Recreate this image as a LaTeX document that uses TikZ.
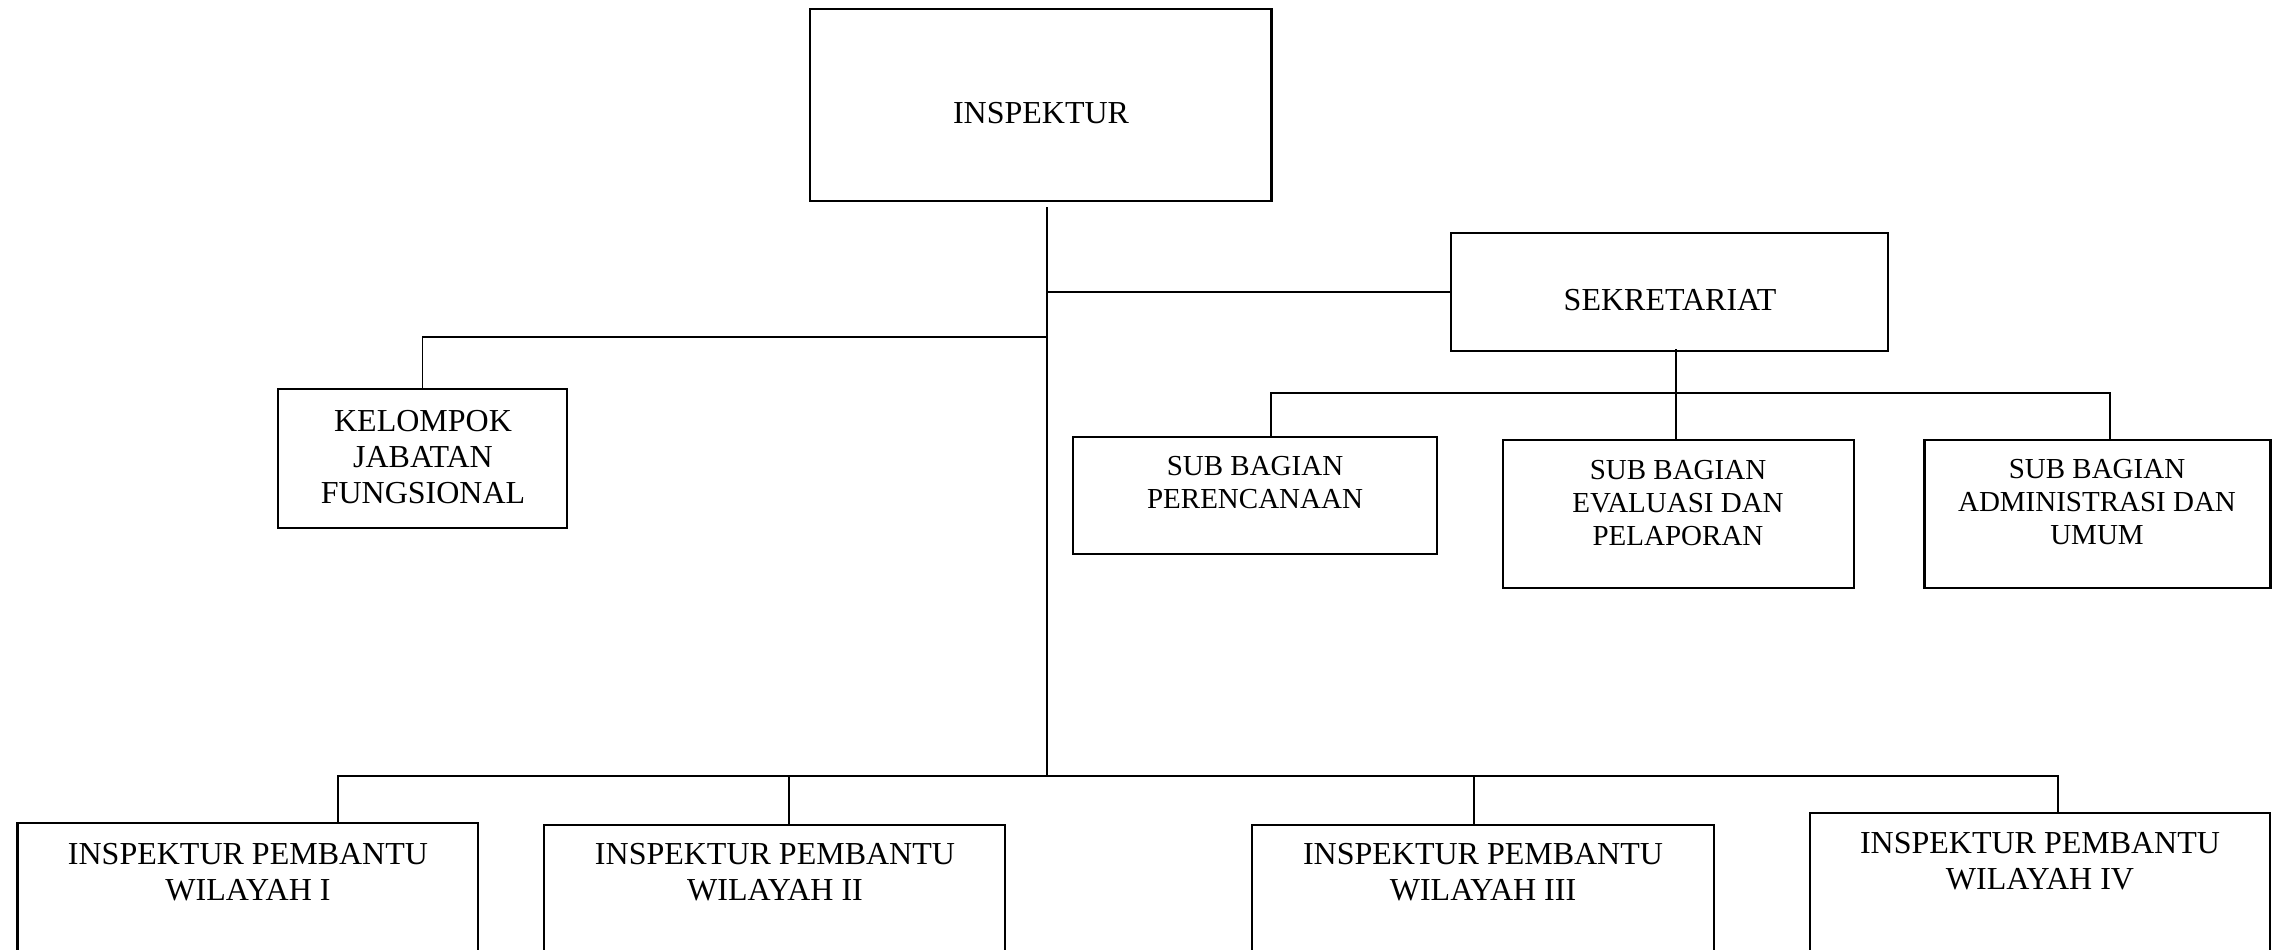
\documentclass[tikz,border=0pt]{standalone}
\usepackage{fontspec}
\setmainfont{Liberation Serif}
\begin{document}
\begin{tikzpicture}[x=1pt,y=-1pt,
  box/.style={draw, line width=2.2pt, inner sep=0pt, outer sep=0pt},
  lbl/.style={align=center, inner sep=0pt, font=\fontsize{32}{36}\selectfont},
  slbl/.style={align=center, inner sep=0pt, font=\fontsize{29}{33}\selectfont},
  conn/.style={line width=1.8pt}]
\clip (0,0) rectangle (2272,950);
\useasboundingbox (0,0) rectangle (2272,950);

% boxes
\node[box, minimum width=461.5, minimum height=192] (insp) at (1040.75,105) {};
\node[box, minimum width=437, minimum height=118] (sek) at (1669.5,292) {};
\node[box, minimum width=289, minimum height=139] (kel) at (422.5,458.5) {};
\node[box, minimum width=364, minimum height=117] (sub1) at (1255,495.5) {};
\node[box, minimum width=351, minimum height=148] (sub2) at (1678.5,514) {};
\node[box, minimum width=346, minimum height=148] (sub3) at (2097.5,514) {};
\node[box, minimum width=460.5, minimum height=200, anchor=north] (b1) at (247.75,823) {};
\node[box, minimum width=461, minimum height=200, anchor=north] (b2) at (774.5,825) {};
\node[box, minimum width=462, minimum height=200, anchor=north] (b3) at (1483,825) {};
\node[box, minimum width=460, minimum height=200, anchor=north] (b4) at (2040,813) {};

% texts
\node[lbl] (insp-t) at (1041,113) {INSPEKTUR};
\node[lbl] (sek-t) at (1670,300) {SEKRETARIAT};
\node[lbl] (kel-t) at (423,457) {KELOMPOK\\JABATAN\\FUNGSIONAL};
\node[slbl] (sub1-t) at (1255,483) {SUB BAGIAN\\PERENCANAAN};
\node[slbl] (sub2-t) at (1678,502.7) {SUB BAGIAN\\EVALUASI DAN\\PELAPORAN};
\node[slbl] (sub3-t) at (2097,502.5) {SUB BAGIAN\\ADMINISTRASI DAN\\UMUM};
\node[lbl] (b1-t) at (248,872.5) {INSPEKTUR PEMBANTU\\WILAYAH I};
\node[lbl] (b2-t) at (775,872.5) {INSPEKTUR PEMBANTU\\WILAYAH II};
\node[lbl] (b3-t) at (1483,872.5) {INSPEKTUR PEMBANTU\\WILAYAH III};
\node[lbl] (b4-t) at (2040,861) {INSPEKTUR PEMBANTU\\WILAYAH IV};

% junction coordinates
\coordinate (trA) at (1047,207);
\coordinate (jS) at (1047,292);
\coordinate (jK) at (1047,337);
\coordinate (busL) at (338,776);
\coordinate (busR) at (2058,776);
\coordinate (sx2) at (789,776);
\coordinate (sx3) at (1474,776);
\coordinate (ss) at (1676,349);
\coordinate (sbL) at (1271,393);
\coordinate (sbR) at (2110,393);

% connectors
\draw[conn] (trA) -- (trA |- busL);
\draw[conn] (jS) -- (sek.west);
\draw[conn] (jK) -| (kel.north);
\draw[conn] (b1.north -| busL) |- (busR) -- (busR |- b4.north);
\draw[conn] (sx2) -- (sx2 |- b2.north);
\draw[conn] (sx3) -- (sx3 |- b3.north);
\draw[conn] (ss) -- (ss |- sub2.north);
\draw[conn] (sub1.north -| sbL) |- (sbR) -- (sbR |- sub3.north);
\end{tikzpicture}
\end{document}
